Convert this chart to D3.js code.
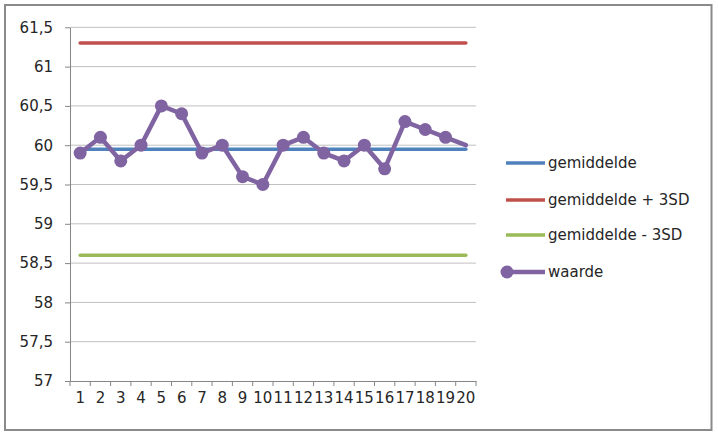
<!DOCTYPE html>
<html>
<head>
<meta charset="utf-8">
<script src="https://cdn.jsdelivr.net/npm/d3@7"></script>
<style>
  body { margin: 0; background: #fff; }
  svg { display: block; }
  text { font-family: "DejaVu Sans", sans-serif; font-size: 15px; fill: #262626; }
</style>
</head>
<body>
<svg id="chart" width="718" height="435"></svg>
<script>
const categories = [1, 2, 3, 4, 5, 6, 7, 8, 9, 10, 11, 12, 13, 14, 15, 16, 17, 18, 19, 20];
const waarde = [59.9, 60.1, 59.8, 60.0, 60.5, 60.4, 59.9, 60.0, 59.6, 59.5,
                60.0, 60.1, 59.9, 59.8, 60.0, 59.7, 60.3, 60.2, 60.1, 60.0];
const gemiddelde = [59.95, 59.95, 59.95, 59.95, 59.95, 59.95, 59.95, 59.95, 59.95, 59.95,
                    59.95, 59.95, 59.95, 59.95, 59.95, 59.95, 59.95, 59.95, 59.95, 59.95];
const gemPlus3SD = [61.3, 61.3, 61.3, 61.3, 61.3, 61.3, 61.3, 61.3, 61.3, 61.3,
                    61.3, 61.3, 61.3, 61.3, 61.3, 61.3, 61.3, 61.3, 61.3, 61.3];
const gemMin3SD = [58.6, 58.6, 58.6, 58.6, 58.6, 58.6, 58.6, 58.6, 58.6, 58.6,
                   58.6, 58.6, 58.6, 58.6, 58.6, 58.6, 58.6, 58.6, 58.6, 58.6];
const yTicks = [57, 57.5, 58, 58.5, 59, 59.5, 60, 60.5, 61, 61.5];
const seriesNames = ["gemiddelde", "gemiddelde + 3SD", "gemiddelde - 3SD", "waarde"];

const svg = d3.select("#chart");

// outer frame
svg.append("rect")
    .attr("x", 5).attr("y", 5)
    .attr("width", 706.5).attr("height", 425)
    .attr("fill", "#fff")
    .attr("stroke", "#8a8a8a")
    .attr("stroke-width", 2);

const x = d3.scaleBand().domain(categories).range([70, 476]);
const y = d3.scaleLinear().domain([57, 61.5]).range([381, 27.3]);
const cx = (c) => x(c) + x.bandwidth() / 2;

// gridlines
svg.append("g")
    .selectAll("line")
    .data(yTicks.slice(1))
    .enter().append("line")
    .attr("x1", 70).attr("x2", 476)
    .attr("y1", (d) => y(d)).attr("y2", (d) => y(d))
    .attr("stroke", "#c0c0c0")
    .attr("stroke-width", 1);

// y axis
const fmt = (d) => String(d).replace(".", ",");
const yAxis = svg.append("g")
    .attr("transform", "translate(70,0)")
    .call(d3.axisLeft(y).tickValues(yTicks).tickFormat(fmt).tickSize(5).tickSizeOuter(0));
yAxis.select(".domain").attr("stroke", "#868686");
yAxis.selectAll(".tick line").attr("stroke", "#868686");
yAxis.selectAll(".tick text")
    .attr("x", -17)
    .style("font-family", "DejaVu Sans")
    .style("font-size", "15px")
    .attr("fill", "#262626");

// x axis: labels centered, ticks on category boundaries
const xAxis = svg.append("g")
    .attr("transform", "translate(0,381)")
    .call(d3.axisBottom(x).tickSize(0).tickPadding(0));
xAxis.select(".domain").attr("stroke", "#868686");
xAxis.selectAll(".tick text")
    .attr("y", 22)
    .attr("dy", 0)
    .style("font-family", "DejaVu Sans")
    .style("font-size", "15px")
    .attr("fill", "#262626");
const bounds = categories.map((c) => x(c)).concat([x(categories[categories.length - 1]) + x.bandwidth()]);
xAxis.selectAll(".bound")
    .data(bounds)
    .enter().append("line")
    .attr("class", "bound")
    .attr("x1", (d) => d).attr("x2", (d) => d)
    .attr("y1", 0).attr("y2", 5)
    .attr("stroke", "#868686");

const line = d3.line()
    .x((d, i) => cx(categories[i]))
    .y((d) => y(d));

const series = [
    { name: seriesNames[0], values: gemiddelde, color: "#4f81bd", width: 3.5 },
    { name: seriesNames[1], values: gemPlus3SD, color: "#c0504d", width: 3.5 },
    { name: seriesNames[2], values: gemMin3SD, color: "#9bbb59", width: 3.5 },
    { name: seriesNames[3], values: waarde, color: "#8064a2", width: 4.5, markers: true }
];

series.forEach((s) => {
    svg.append("path")
        .datum(s.values)
        .attr("fill", "none")
        .attr("stroke", s.color)
        .attr("stroke-width", s.width)
        .attr("stroke-linecap", "round")
        .attr("stroke-linejoin", "round")
        .attr("d", line);
    if (s.markers) {
        // the last point has no marker in the original
        svg.append("g")
            .selectAll("circle")
            .data(s.values.slice(0, -1))
            .enter().append("circle")
            .attr("cx", (d, i) => cx(categories[i]))
            .attr("cy", (d) => y(d))
            .attr("r", 6.5)
            .attr("fill", s.color);
    }
});

// legend
const legendY = [163, 200, 235, 272];
const legend = svg.append("g")
    .selectAll("g")
    .data(series)
    .enter().append("g")
    .attr("transform", (d, i) => "translate(0," + legendY[i] + ")");
legend.append("line")
    .attr("x1", 506).attr("x2", 545)
    .attr("y1", 0).attr("y2", 0)
    .attr("stroke", (d) => d.color)
    .attr("stroke-width", (d) => d.width);
legend.filter((d) => d.markers).append("circle")
    .attr("cx", 507).attr("cy", 0).attr("r", 6.5)
    .attr("fill", (d) => d.color);
legend.append("text")
    .attr("x", 548)
    .attr("dy", "0.35em")
    .text((d) => d.name);
</script>
</body>
</html>
